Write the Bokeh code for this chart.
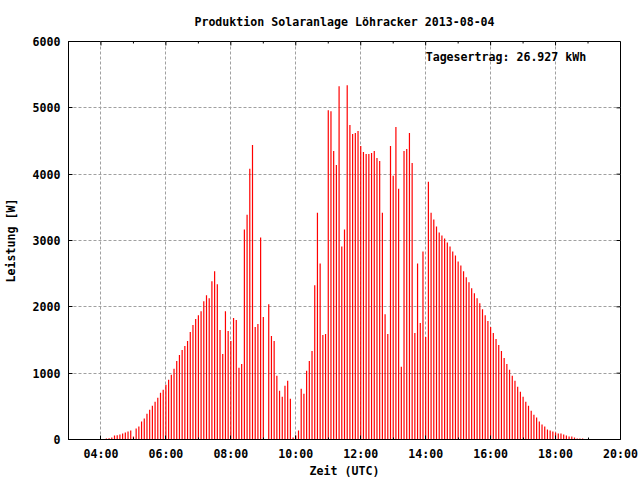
from bokeh.plotting import figure
from bokeh.models import FixedTicker, Range1d, Label, ColumnDataSource
from bokeh.embed import file_html
from bokeh.resources import INLINE

title_text = "Produktion Solaranlage Löhracker 2013-08-04"
yield_text = "Tagesertrag: 26.927 kWh"
x_label = "Zeit (UTC)"
y_label = "Leistung [W]"

times = [
    "04:10", "04:15", "04:20", "04:25", "04:30", "04:35", "04:40", "04:45", "04:50", "04:55",
    "05:00", "05:05", "05:10", "05:15", "05:20", "05:25", "05:30", "05:35", "05:40", "05:45", "05:50", "05:55",
    "06:00", "06:05", "06:10", "06:15", "06:20", "06:25", "06:30", "06:35", "06:40", "06:45", "06:50", "06:55",
    "07:00", "07:05", "07:10", "07:15", "07:20", "07:25", "07:30", "07:35", "07:40", "07:45", "07:50", "07:55",
    "08:00", "08:05", "08:10", "08:15", "08:20", "08:25", "08:30", "08:35", "08:40", "08:45", "08:50", "08:55",
    "09:00", "09:05", "09:10", "09:15", "09:20", "09:25", "09:30", "09:35", "09:40", "09:45", "09:50", "09:55",
    "10:00", "10:05", "10:10", "10:15", "10:20", "10:25", "10:30", "10:35", "10:40", "10:45", "10:50", "10:55",
    "11:00", "11:05", "11:10", "11:15", "11:20", "11:25", "11:30", "11:35", "11:40", "11:45", "11:50", "11:55",
    "12:00", "12:05", "12:10", "12:15", "12:20", "12:25", "12:30", "12:35", "12:40", "12:45", "12:50", "12:55",
    "13:00", "13:05", "13:10", "13:15", "13:20", "13:25", "13:30", "13:35", "13:40", "13:45", "13:50", "13:55",
    "14:00", "14:05", "14:10", "14:15", "14:20", "14:25", "14:30", "14:35", "14:40", "14:45", "14:50", "14:55",
    "15:00", "15:05", "15:10", "15:15", "15:20", "15:25", "15:30", "15:35", "15:40", "15:45", "15:50", "15:55",
    "16:00", "16:05", "16:10", "16:15", "16:20", "16:25", "16:30", "16:35", "16:40", "16:45", "16:50", "16:55",
    "17:00", "17:05", "17:10", "17:15", "17:20", "17:25", "17:30", "17:35", "17:40", "17:45", "17:50", "17:55",
    "18:00", "18:05", "18:10", "18:15", "18:20", "18:25", "18:30", "18:35", "18:40", "18:45", "18:50",
]

power = [
    15, 20, 30, 60, 65, 75, 90, 105, 120, 135,
    45, 165, 195, 270, 315, 390, 450, 510, 570, 630, 705, 750,
    825, 900, 975, 1065, 1185, 1275, 1350, 1410, 1485, 1620, 1725, 1815,
    1875, 1935, 2085, 2175, 2130, 2385, 2535, 2340, 1650, 1290, 1935, 1635,
    1485, 1830, 1800, 1080, 1140, 3165, 3390, 4080, 4440, 1695, 1740, 3045,
    1845, 0, 2040, 1560, 1485, 960, 735, 645, 810, 885, 615, 30,
    60, 135, 765, 690, 1035, 1185, 1335, 2325, 3420, 2655, 1575, 1590,
    4965, 4950, 4350, 4140, 5325, 2910, 3165, 5340, 4740, 4605, 4620, 4650,
    4425, 4335, 4305, 4305, 4320, 4350, 4245, 4200, 3420, 1890, 1590, 4425,
    3975, 4710, 3780, 1095, 4350, 4380, 4620, 4170, 1605, 2655, 1755, 2835,
    1545, 3885, 3420, 3315, 3210, 3120, 3075, 3030, 2970, 2910, 2835, 2775,
    2685, 2625, 2535, 2445, 2370, 2280, 2205, 2130, 2055, 1965, 1875, 1785,
    1695, 1605, 1515, 1425, 1335, 1230, 1140, 1050, 960, 885, 795, 720,
    645, 570, 510, 435, 375, 330, 270, 225, 195, 150, 135, 120,
    105, 90, 90, 75, 60, 45, 45, 30, 15, 15, 15,
]

x_tick_labels = ["04:00", "06:00", "08:00", "10:00", "12:00", "14:00", "16:00", "18:00", "20:00"]
x_minor_labels = ["03:00", "05:00", "07:00", "09:00", "11:00", "13:00", "15:00", "17:00", "19:00"]
y_ticks = [0, 1000, 2000, 3000, 4000, 5000, 6000]


def hours(s):
    hh, mm = s.split(":")
    return int(hh) + int(mm) / 60.0


FONT = "DejaVu Sans Mono"
FS = "11.6px"
X0, X1, Y0, Y1 = 3, 20, 0, 6000

x_major = [hours(s) for s in x_tick_labels]
x_minor = [hours(s) for s in x_minor_labels]

source = ColumnDataSource(data=dict(t=[hours(s) for s in times], w=power))

p = figure(width=640, height=480, output_backend="svg", toolbar_location=None,
           x_range=Range1d(X0, X1), y_range=Range1d(Y0, Y1),
           min_border_left=68, min_border_right=20, min_border_top=40, min_border_bottom=40,
           background_fill_color="white", border_fill_color="white")

p.outline_line_color = "black"
p.outline_line_width = 1

p.title.text = title_text
p.title.align = "center"
p.title.text_font = FONT
p.title.text_font_size = FS
p.title.text_font_style = "bold"
p.title.text_color = "black"
p.title.standoff = 25

p.segment(x0="t", y0=0, x1="t", y1="w", source=source, line_color="#ff0000", line_width=1.2)

# mirrored tick marks on top and right border (gnuplot style), drawn from the tick lists
px_x = (X1 - X0) / 552.0
px_y = (Y1 - Y0) / 400.0
p.segment(x0=x_major, y0=[Y1] * len(x_major), x1=x_major, y1=[Y1 - 4 * px_y] * len(x_major),
          line_color="black", line_width=1)
p.segment(x0=x_minor, y0=[Y1] * len(x_minor), x1=x_minor, y1=[Y1 - 2 * px_y] * len(x_minor),
          line_color="black", line_width=1)
p.segment(x0=[X1] * len(y_ticks), y0=y_ticks, x1=[X1 - 4 * px_x] * len(y_ticks), y1=y_ticks,
          line_color="black", line_width=1)

xt = FixedTicker(ticks=x_major, minor_ticks=x_minor)
yt = FixedTicker(ticks=y_ticks, minor_ticks=[])

p.xaxis.ticker = xt
p.xaxis.major_label_overrides = {h: s for h, s in zip(x_major, x_tick_labels)}
p.xaxis.axis_label = x_label
p.yaxis.ticker = yt
p.yaxis.axis_label = y_label

for ax in list(p.xaxis) + list(p.yaxis):
    ax.axis_line_color = "black"
    ax.major_tick_line_color = "black"
    ax.minor_tick_line_color = "black"
    ax.major_tick_in = 4
    ax.major_tick_out = 0
    ax.minor_tick_in = 2
    ax.minor_tick_out = 0
    ax.major_label_text_font = FONT
    ax.major_label_text_font_size = FS
    ax.major_label_text_font_style = "bold"
    ax.major_label_text_color = "black"
    ax.axis_label_text_font = FONT
    ax.axis_label_text_font_size = FS
    ax.axis_label_text_font_style = "bold"
    ax.axis_label_text_color = "black"

p.xaxis.major_label_standoff = 7
p.xaxis.axis_label_standoff = 0
p.yaxis.major_label_standoff = 8
p.yaxis.axis_label_standoff = 12

p.xgrid.ticker = FixedTicker(ticks=x_major)
p.ygrid.ticker = FixedTicker(ticks=y_ticks)
for g in (p.xgrid, p.ygrid):
    g.grid_line_color = "#a0a0a0"
    g.grid_line_dash = "3 2"
    g.grid_line_width = 1

p.add_layout(Label(x=hours("14:00"), y=5770, text=yield_text, text_font=FONT,
                   text_font_size=FS, text_font_style="bold", text_align="left",
                   text_baseline="middle", text_color="black"))

open("out.html", "w").write(file_html(p, INLINE))
